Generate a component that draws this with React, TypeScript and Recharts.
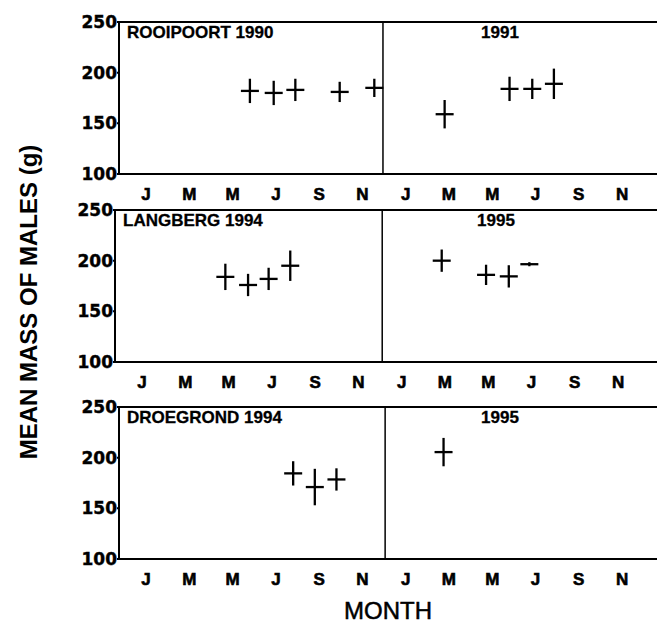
import { ComposedChart, Scatter, XAxis, YAxis, ErrorBar, ReferenceLine } from 'recharts'

// month index: 0 = January of the first year, 12 = January of the second year
const monthTicks = [0, 2, 4, 6, 8, 10, 12, 14, 16, 18, 20, 22]
const monthLetters = ['J', 'M', 'M', 'J', 'S', 'N']
const massTicks = [100, 150, 200, 250]

const rooipoortMonth = [4.8, 5.9, 6.9, 8.95, 10.55, 13.8, 16.8, 17.85, 18.85]
const rooipoortMass = [182, 180, 183, 181, 185, 159, 184, 184, 189]
const rooipoortErr = [12, 12, 11, 10, 9, 14, 12, 10, 15]

const langbergMonth = [3.85, 4.9, 5.85, 6.85, 13.85, 15.9, 16.95, 17.9]
const langbergMass = [184, 176, 182, 195, 200, 186, 184.5, 196.5]
const langbergErr = [13, 11, 11, 15, 11, 10, 11, 2]

const droegrondMonth = [6.8, 7.8, 8.8, 13.75]
const droegrondMass = [184.5, 171, 178.5, 205.5]
const droegrondErr = [12, 18, 11, 14]

const rows = [
  { name: 'ROOIPOORT 1990', nextYear: '1991', month: rooipoortMonth, mass: rooipoortMass, err: rooipoortErr, yearBreak: 10.95, top: 22, shift: 0 },
  { name: 'LANGBERG 1994', nextYear: '1995', month: langbergMonth, mass: langbergMass, err: langbergErr, yearBreak: 11.1, top: 210, shift: -4 },
  { name: 'DROEGROND 1994', nextYear: '1995', month: droegrondMonth, mass: droegrondMass, err: droegrondErr, yearBreak: 11.05, top: 407, shift: 0 },
]

const AXIS_W = 119
const PLOT_H = 152
const CHART_W = 661
const CHART_H = 10 + PLOT_H + 25 + 5

const Cross = (props: any) => {
  const { cx, cy } = props
  if (cx == null || cy == null) return null
  return <line x1={cx - 9} x2={cx + 9} y1={cy} y2={cy} stroke="#000" strokeWidth={2.3} />
}

function Panel({ row }: { row: (typeof rows)[number] }) {
  const data = row.month.map((m, i) => ({ month: m, mass: row.mass[i], err: row.err[i] }))
  return (
    <div style={{ position: 'absolute', left: row.shift, top: row.top - 10 }}>
      <ComposedChart width={CHART_W} height={CHART_H} data={data} margin={{ top: 10, right: 0, left: 0, bottom: 5 }}>
        <XAxis
          type="number"
          dataKey="month"
          domain={[-1.25, 23.8]}
          allowDataOverflow
          ticks={monthTicks}
          interval={0}
          tickFormatter={(v: number) => monthLetters[(v / 2) % 6]}
          axisLine={{ stroke: '#000', strokeWidth: 2 }}
          tickLine={false}
          tickMargin={8}
          height={25}
          tick={{ fontSize: 17, fontWeight: 'bold', fill: '#000', stroke: '#000', strokeWidth: 0.6, fontFamily: 'Liberation Sans, Arial, sans-serif' }}
        />
        <YAxis
          type="number"
          dataKey="mass"
          domain={[100, 250]}
          allowDataOverflow
          ticks={massTicks}
          interval={0}
          width={AXIS_W}
          axisLine={{ stroke: '#000', strokeWidth: 2 }}
          tickLine={{ stroke: '#000', strokeWidth: 2 }}
          tickSize={2}
          tickMargin={0}
          tick={{ fontSize: 17, fontWeight: 'bold', fill: '#000', stroke: '#000', strokeWidth: 0.4, fontFamily: 'DejaVu Sans, sans-serif' }}
        />
        <ReferenceLine y={250} stroke="#000" strokeWidth={2} />
        <ReferenceLine x={row.yearBreak} stroke="#000" strokeWidth={1.5} />
        <Scatter dataKey="mass" shape={Cross} isAnimationActive={false}>
          <ErrorBar dataKey="err" direction="y" width={0} stroke="#000" strokeWidth={2.3} isAnimationActive={false} />
        </Scatter>
      </ComposedChart>
    </div>
  )
}

export default function App() {
  return (
    <>
      <style>{'html,body{margin:0;padding:0;overflow:hidden}'}</style>
      <div style={{ position: 'relative', width: 657, height: 624, overflow: 'hidden', background: '#fff', fontFamily: 'Liberation Sans, Arial, sans-serif' }}>
        {rows.map((row) => (
          <Panel key={row.name} row={row} />
        ))}
        <svg width={657} height={624} style={{ position: 'absolute', left: 0, top: 0, pointerEvents: 'none' }}>
          {rows.map((row) => (
            <g key={row.name} fontSize={17} fontWeight="bold" fill="#000" stroke="#000" strokeWidth={0.3}>
              <text x={row.shift + AXIS_W + 8} y={row.top + 16}>{row.name}</text>
              <text x={row.shift + AXIS_W + 381} y={row.top + 16} textAnchor="middle">{row.nextYear}</text>
            </g>
          ))}
          <text x={28} y={302} fontSize={24} fontWeight="bold" textAnchor="middle" dominantBaseline="central" transform="rotate(-90, 28, 302)">
            MEAN MASS OF MALES (g)
          </text>
          <text x={388} y={610} fontSize={24} textAnchor="middle" dominantBaseline="central" stroke="#000" strokeWidth={0.5}>
            MONTH
          </text>
        </svg>
      </div>
    </>
  )
}
